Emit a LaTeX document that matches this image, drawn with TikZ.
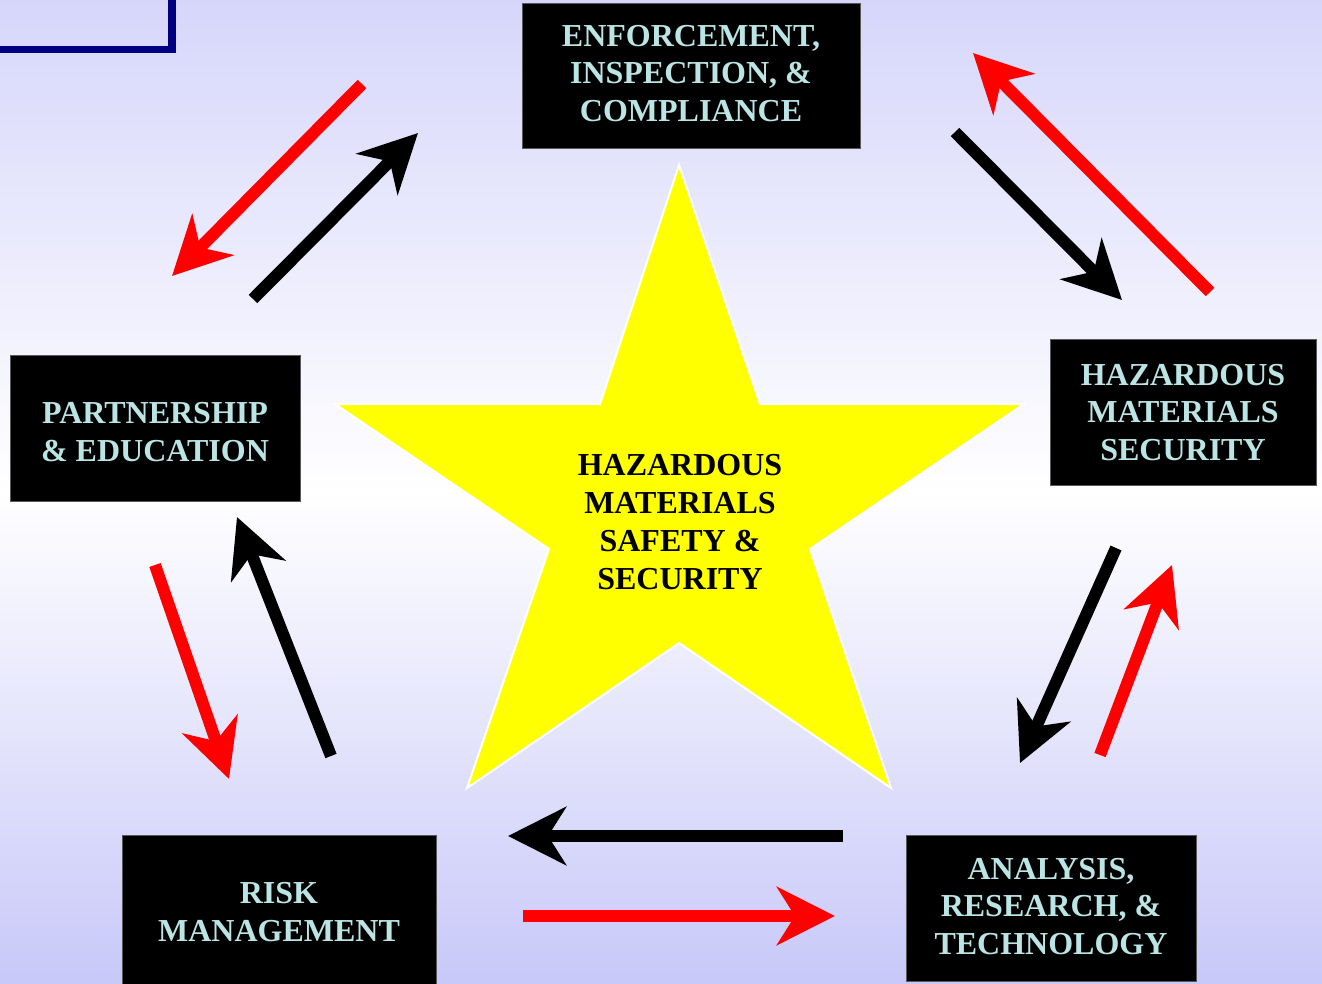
\documentclass[tikz,border=0pt]{standalone}
\usepackage{fontspec}
\setmainfont{Liberation Serif}
\usetikzlibrary{arrows.meta}
\definecolor{bgtop}{RGB}{214,214,251}
\definecolor{bgbot}{RGB}{200,200,249}
\definecolor{boxtext}{RGB}{187,228,228}
\definecolor{navyline}{RGB}{0,0,128}
\definecolor{staryellow}{RGB}{255,255,0}
\tikzset{
  box/.style={fill=black, draw=black!65, line width=1pt, inner sep=0pt},
  boxlabel/.style={text=boxtext, align=center,
    font=\fontsize{32}{37.5}\selectfont\bfseries, inner sep=0pt},
  arr/.style={line width=12pt, -{Stealth[length=58pt,width=58pt,inset=18pt]}},
  redarr/.style={arr, draw=red},
  blackarr/.style={arr, draw=black},
  startext/.style={align=center, text=black, font=\fontsize{32}{38}\selectfont\bfseries, inner sep=0pt}
}
\begin{document}
\begin{tikzpicture}[x=1pt,y=-1pt]
\useasboundingbox (0,0) rectangle (1322,984);
\shade[top color=bgtop, bottom color=bgbot, middle color=white] (0,0) rectangle (1322,984);
% corner frame
\draw[navyline, line width=7.5pt] (0,49.5) -- (172,49.5) -- (172,-5);

% star
\coordinate (sT) at (679,165);
\coordinate (sR) at (1024,404);
\coordinate (sBR) at (891,788);
\coordinate (sBL) at (467,788);
\coordinate (sL) at (335,404);
\coordinate (iTR) at (760,404);
\coordinate (iR) at (810,549);
\coordinate (iB) at (679,643);
\coordinate (iL) at (549,549);
\coordinate (iTL) at (600,404);
\draw[fill=staryellow, draw=white, line width=2pt]
  (sT) -- (iTR) -- (sR) -- (iR) -- (sBR) -- (iB) -- (sBL) -- (iL) -- (sL) -- (iTL) -- cycle;
\node[startext] (center) at (680,522) {HAZARDOUS\\MATERIALS\\SAFETY \&\\SECURITY};

% boxes
\node[box, minimum width=338pt, minimum height=145pt] (enf) at (691,76.5) {};
\node[boxlabel] (enf-t) at (691,73.5) {ENFORCEMENT,\\INSPECTION, \&\\COMPLIANCE};
\node[box, minimum width=290pt, minimum height=146pt] (part) at (155,428) {};
\node[boxlabel] (part-t) at (155,432) {PARTNERSHIP\\\& EDUCATION};
\node[box, minimum width=266pt, minimum height=146pt] (hms) at (1183,412) {};
\node[boxlabel] (hms-t) at (1183,412.5) {HAZARDOUS\\MATERIALS\\SECURITY};
\node[box, minimum width=314pt, minimum height=149pt] (risk) at (279,910) {};
\node[boxlabel] (risk-t) at (279,912) {RISK\\MANAGEMENT};
\node[box, minimum width=290pt, minimum height=146pt] (ana) at (1051,908) {};
\node[boxlabel] (ana-t) at (1051,906.5) {ANALYSIS,\\RESEARCH, \&\\TECHNOLOGY};

% arrow end points
\coordinate (a1s) at (362,84);   \coordinate (a1e) at (172,276);
\coordinate (a2s) at (253,299);  \coordinate (a2e) at (418,133);
\coordinate (a3s) at (955,132);  \coordinate (a3e) at (1122,300);
\coordinate (a4s) at (1210,292); \coordinate (a4e) at (973,53);
\coordinate (a5s) at (1116,548); \coordinate (a5e) at (1020,763);
\coordinate (a6s) at (1100,755); \coordinate (a6e) at (1172,565);
\coordinate (a7s) at (155,565);  \coordinate (a7e) at (229,779);
\coordinate (a8s) at (331,756);  \coordinate (a8e) at (237,517);
\coordinate (a9s) at (843,836);  \coordinate (a9e) at (508,836);
\coordinate (a10s) at (523,916); \coordinate (a10e) at (835,916);

\draw[redarr] (a1s) -- (a1e);
\draw[blackarr] (a2s) -- (a2e);
\draw[blackarr] (a3s) -- (a3e);
\draw[redarr] (a4s) -- (a4e);
\draw[blackarr] (a5s) -- (a5e);
\draw[redarr] (a6s) -- (a6e);
\draw[redarr] (a7s) -- (a7e);
\draw[blackarr] (a8s) -- (a8e);
\draw[blackarr] (a9s) -- (a9e);
\draw[redarr] (a10s) -- (a10e);
\end{tikzpicture}
\end{document}
